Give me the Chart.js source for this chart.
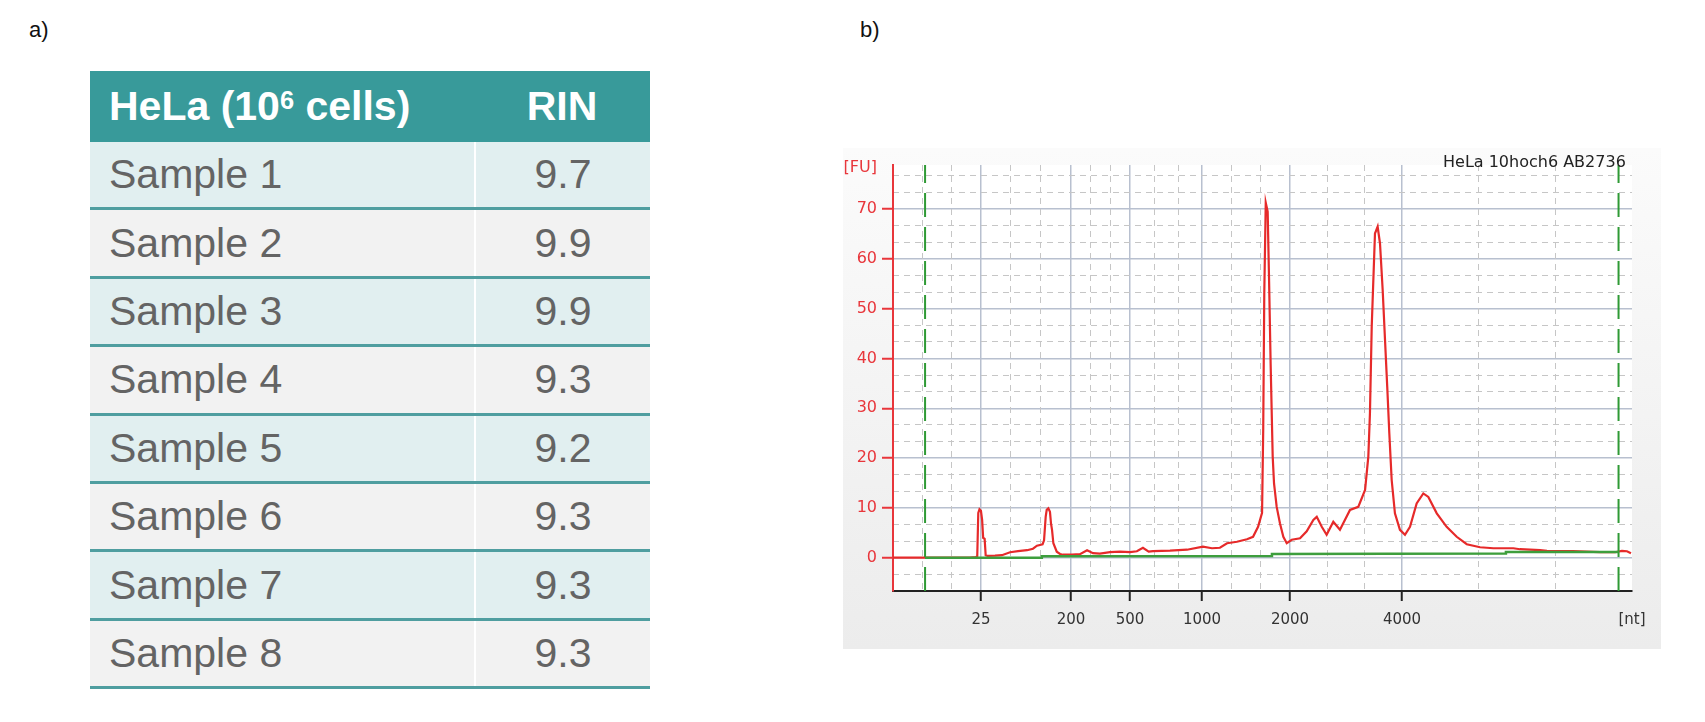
<!DOCTYPE html>
<html>
<head>
<meta charset="utf-8">
<script src="https://cdn.jsdelivr.net/npm/chart.js@4.4.0/dist/chart.umd.min.js"></script>
<style>
  body{margin:0;width:1705px;height:722px;background:#fff;position:relative;overflow:hidden;font-family:"Liberation Sans",Arial,sans-serif;}
  .lbl{position:absolute;font-size:22px;color:#111;line-height:22px;}
  #tbl{position:absolute;left:90px;top:71px;width:560px;}
  .hdr{height:71px;background:#389a9a;display:flex;color:#fff;font-weight:bold;font-size:41px;}
  .row{height:65.4px;border-bottom:3px solid #4f9ea0;display:flex;font-size:41px;color:#646464;}
  .c1{box-sizing:border-box;width:384px;padding-left:19px;display:flex;align-items:center;}
  .c2{box-sizing:border-box;flex:1;display:flex;align-items:center;justify-content:center;}
  .row .c2{border-left:2px solid #fff;}
  .odd{background:#e1eff0;}
  .even{background:#f2f2f2;}
  .txt{white-space:pre;}
  sup{font-size:0.62em;vertical-align:11px;line-height:0;}
  #panel{position:absolute;left:843px;top:148px;width:818px;height:501px;background:linear-gradient(#fbfbfb,#ececec);}
  #title{position:absolute;left:1443px;top:154px;font-family:"DejaVu Sans",sans-serif;font-size:16px;line-height:16px;color:#222;white-space:nowrap;}
</style>
</head>
<body>
<div class="lbl" style="left:29px;top:19px;">a)</div>
<div class="lbl" style="left:860px;top:19px;">b)</div>

<div id="tbl"></div>

<div id="panel"><canvas id="c" width="818" height="501"></canvas></div>
<div id="title">HeLa 10hoch6 AB2736</div>

<script>
// ---------- table data ----------
const tableHeader = ["HeLa (10<sup>6</sup> cells)", "RIN"];
const sampleNames = ["Sample 1","Sample 2","Sample 3","Sample 4","Sample 5","Sample 6","Sample 7","Sample 8"];
const rinValues = ["9.7","9.9","9.9","9.3","9.2","9.3","9.3","9.3"];

// ---------- electropherogram data ----------
// migration time (s) and fluorescence (FU) of the sample trace
const traceTime = [19.00,24.21,24.62,24.70,24.77,24.85,24.95,25.03,25.10,25.20,25.27,25.40,25.90,26.37,26.92,27.46,28.07,28.47,28.74,29.01,
  29.12,29.22,29.33,29.40,29.51,29.62,29.69,29.76,29.85,30.08,30.30,30.50,31.11,31.65,32.13,32.53,33.00,33.68,34.36,35.04,
  35.50,35.91,36.30,36.59,37.74,38.89,39.97,40.58,41.12,41.60,42.27,42.95,43.36,43.70,43.97,44.05,44.12,44.22,44.35,44.44,
  44.55,44.69,44.78,44.96,45.18,45.41,45.64,45.98,46.54,46.99,47.44,47.67,48.01,48.34,48.79,49.24,49.92,50.48,50.94,51.16,
  51.27,51.39,51.61,51.79,51.95,52.13,52.29,52.44,52.58,52.74,52.96,53.30,53.64,53.98,54.43,54.88,55.22,55.79,56.46,57.14,
  57.82,58.72,59.62,60.97,61.42,62.78,63.25,65.01,66.84,67.85,68.32,68.66,68.93];
const traceFU = [0,0,0.1,0.3,9.0,9.7,9.4,7.6,4.0,3.8,0.5,0.35,0.4,0.5,1.1,1.3,1.5,1.8,2.4,2.6,
  2.7,3.5,8.2,9.6,9.9,9.2,6.9,5.6,2.9,1.2,0.75,0.6,0.6,0.7,1.5,0.9,0.8,1.1,1.2,1.1,
  1.3,2.0,1.2,1.3,1.4,1.6,2.2,1.9,2.0,2.9,3.2,3.7,4.2,6.2,9.0,26,53,71.3,69.5,56.4,
  39,20.3,14.9,10.2,6.9,4.2,2.9,3.6,3.9,5.3,7.6,8.2,6.2,4.6,7.2,5.6,9.6,10.2,13.6,20.3,
  29,46.4,65.1,66.5,63.1,53.8,43.7,34.3,25,15.6,8.9,5.6,4.6,6.2,10.9,12.9,12.2,8.9,6.2,4.2,
  2.7,2.1,1.9,1.9,1.7,1.5,1.35,1.3,1.1,1.1,1.35,1.3,0.9];

// baseline (green)
const baselineTime = [21.17,29.06,29.07,44.63,44.64,60.46,60.47,68.09];
const baselineFU   = [0,0,0.3,0.35,0.75,0.85,1.15,1.15];

// analysis region markers (green dashed)
const markerTimes = [21.17,68.09];

// ladder positions on the time axis and their labels
const ladderTimes  = [24.95,31.04,35.04,39.91,45.86,53.44];
const ladderLabels = ["25","200","500","1000","2000","4000"];
const xUnitLabel = "[nt]";

const yTicks = [0,10,20,30,40,50,60,70];
const yUnitLabel = "[FU]";
const yUnitPos = 78.2;

const X_MIN = 19, X_MAX = 69;
const Y_MIN = -6.69, Y_MAX = 78.86;

// ---------- build table ----------
(function(){
  const t = document.getElementById('tbl');
  let h = '<div class="hdr"><div class="c1"><span class="txt">'+tableHeader[0]+'</span></div><div class="c2"><span class="txt">'+tableHeader[1]+'</span></div></div>';
  sampleNames.forEach((s,i)=>{
    h += '<div class="row '+(i%2===0?'odd':'even')+'"><div class="c1"><span class="txt">'+s+'</span></div><div class="c2"><span class="txt">'+rinValues[i]+'</span></div></div>';
  });
  t.innerHTML = h;
})();

// ---------- minor grid positions (thirds between major lines) ----------
const xBounds = [X_MIN, ...ladderTimes, X_MAX];
const minorX = [];
for (let i=0;i<xBounds.length-1;i++){
  const a=xBounds[i], b=xBounds[i+1];
  minorX.push(a+(b-a)/3, a+2*(b-a)/3);
}
const minorY = [];
for (let k=-2;k<=24;k++){
  const v = k*10/3;
  if (k%3!==0 && v>Y_MIN && v<Y_MAX) minorY.push(v);
}

const TRANSP = 'rgba(0,0,0,0)';
const areaBg = {id:'areaBg', beforeDraw(c){
  const {ctx, chartArea:a} = c;
  ctx.save(); ctx.fillStyle='#ffffff';
  ctx.fillRect(a.left,a.top,a.right-a.left,a.bottom-a.top); ctx.restore();
}};

const toXY = (xs,ys)=>xs.map((x,i)=>({x:x,y:ys[i]}));

const datasets = [
  {label:'baseline', data:toXY(baselineTime,baselineFU), borderColor:'#3d9e3d', borderWidth:2.5, pointRadius:0, order:0},
  ...markerTimes.map(t=>({label:'marker', data:[{x:t,y:Y_MIN},{x:t,y:Y_MAX}], borderColor:'#2f9a35', borderWidth:2, borderDash:[24,10], pointRadius:0, order:1})),
  {label:'HeLa', data:toXY(traceTime,traceFU), borderColor:'#e62a2a', borderWidth:2.2, pointRadius:0, order:2}
];

new Chart(document.getElementById('c'), {
  type:'line',
  data:{datasets:datasets},
  plugins:[areaBg],
  options:{
    responsive:false, animation:false, devicePixelRatio:1,
    layout:{padding:{top:17,right:29,left:0,bottom:0}},
    plugins:{legend:{display:false}, tooltip:{enabled:false}, title:{display:false}},
    elements:{line:{tension:0}},
    scales:{
      x:{
        type:'linear', position:'bottom', min:X_MIN, max:X_MAX,
        afterBuildTicks:s=>{ s.ticks=[...ladderTimes, X_MAX].map(v=>({value:v})); },
        afterFit:s=>{ s.height=58; },
        ticks:{autoSkip:false, maxRotation:0, minRotation:0, padding:10, color:'#333',
          font:{family:'DejaVu Sans', size:15},
          callback:(v,i)=> i<ladderLabels.length ? ladderLabels[i] : xUnitLabel},
        grid:{color:c=> c.index<ladderLabels.length ? '#b8c0cf' : TRANSP, lineWidth:1.5,
          tickColor:c=> c.index<ladderLabels.length ? '#222' : TRANSP, tickLength:10, tickWidth:2},
        border:{color:'#222', width:2}
      },
      y:{
        type:'linear', position:'left', min:Y_MIN, max:Y_MAX,
        afterBuildTicks:s=>{ s.ticks=[...yTicks, yUnitPos].map(v=>({value:v})); },
        afterFit:s=>{ s.width=50; },
        ticks:{autoSkip:false, padding:5, color:'#e8363b',
          font:{family:'DejaVu Sans', size:16},
          callback:(v,i)=> i<yTicks.length ? String(yTicks[i]) : yUnitLabel},
        grid:{color:c=> c.index<yTicks.length ? '#b8c0cf' : TRANSP, lineWidth:1.5,
          tickColor:c=> c.index<yTicks.length ? '#e8363b' : TRANSP, tickLength:11, tickWidth:2},
        border:{color:'#e8363b', width:2}
      },
      x2:{
        type:'linear', position:'top', min:X_MIN, max:X_MAX,
        afterBuildTicks:s=>{ s.ticks=minorX.map(v=>({value:v})); },
        afterFit:s=>{ s.height=0; },
        ticks:{display:false},
        grid:{color:'#c6c6c6', lineWidth:1, drawTicks:false},
        border:{display:false, dash:[6,5]}
      },
      y2:{
        type:'linear', position:'right', min:Y_MIN, max:Y_MAX,
        afterBuildTicks:s=>{ s.ticks=minorY.map(v=>({value:v})); },
        afterFit:s=>{ s.width=0; },
        ticks:{display:false},
        grid:{color:'#c6c6c6', lineWidth:1, drawTicks:false},
        border:{display:false, dash:[6,5]}
      }
    }
  }
});
</script>
</body>
</html>
